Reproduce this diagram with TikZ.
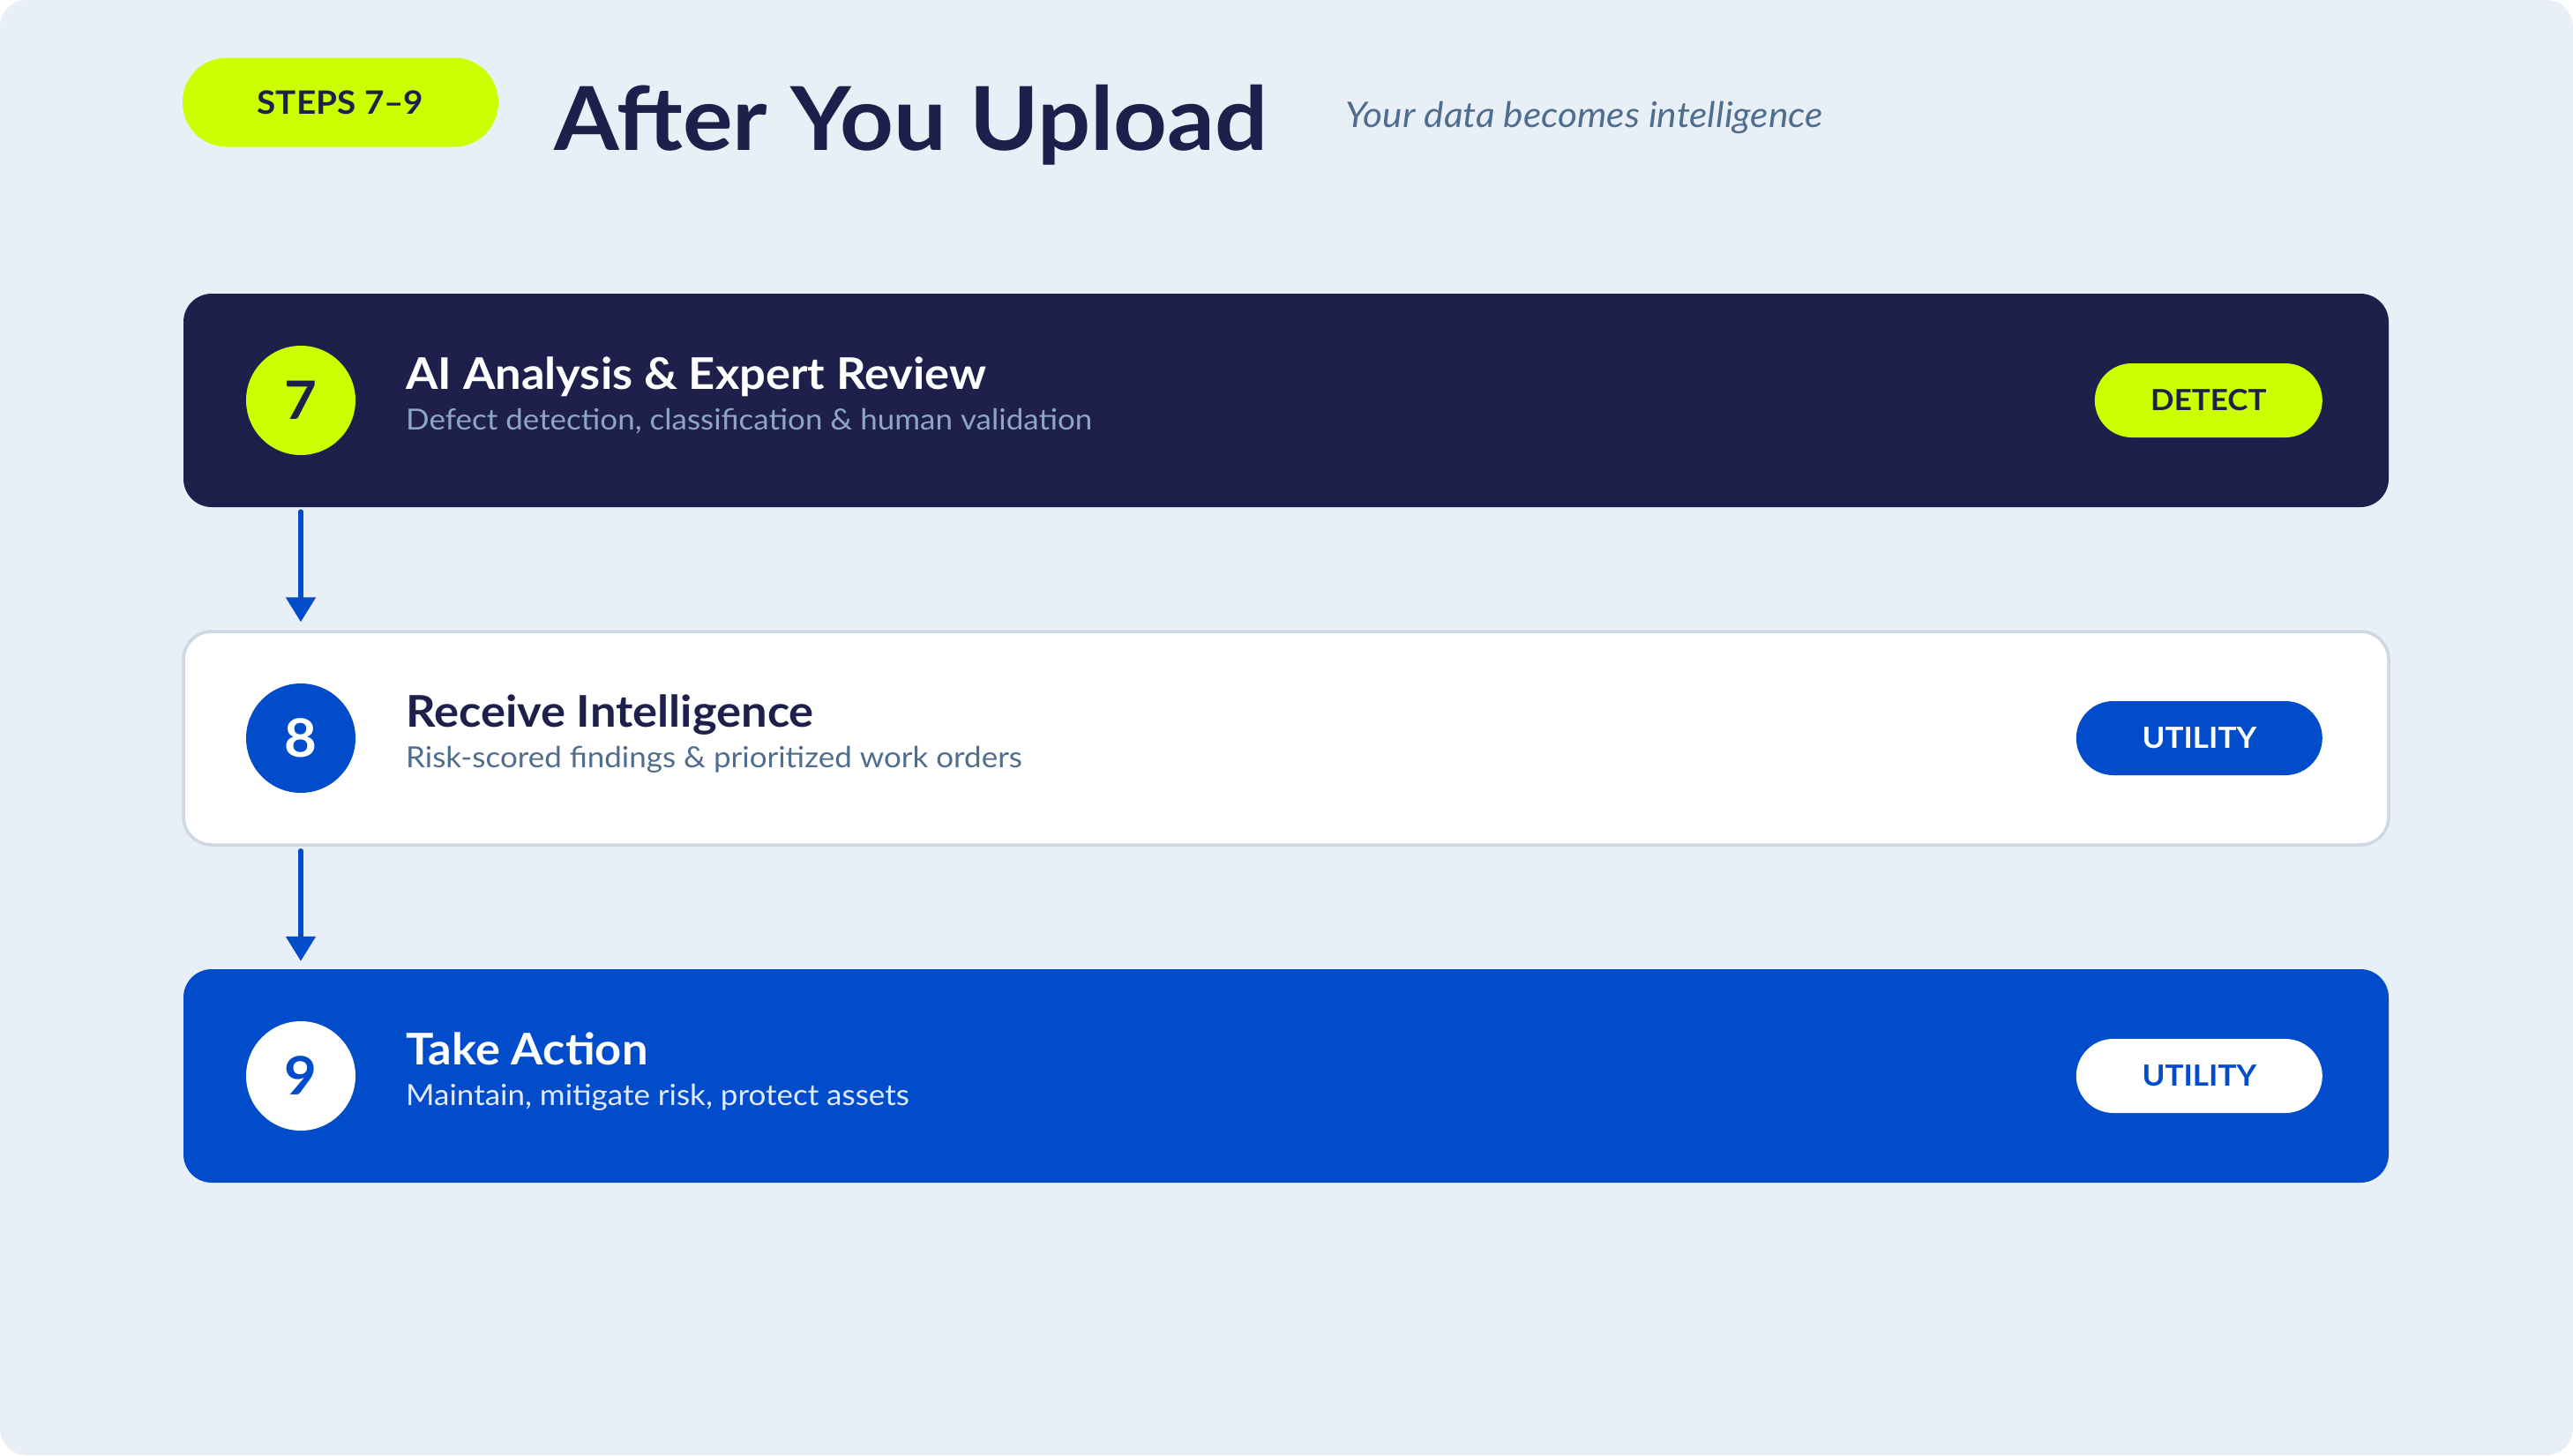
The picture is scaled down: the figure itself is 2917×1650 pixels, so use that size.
\documentclass[tikz,border=0pt]{standalone}
\usepackage{fontspec}
\setmainfont{Lato}[FakeStretch=1.06]
\usetikzlibrary{arrows.meta,positioning}
\definecolor{pagebg}{HTML}{E8EFF7}
\definecolor{navy}{HTML}{1E1F4A}
\definecolor{lime}{HTML}{CCFF00}
\definecolor{royal}{HTML}{004CCB}
\definecolor{slate}{HTML}{4F6D8F}
\definecolor{mist}{HTML}{8CA5C8}
\definecolor{frost}{HTML}{E3EBFF}
\definecolor{edge}{HTML}{CDD8E4}
\newcommand{\fsz}[1]{\fontsize{#1}{#1}\selectfont}
\tikzset{
  card/.style={minimum width=2500pt,minimum height=242pt,rounded corners=32pt,inner sep=0pt},
  badge/.style={circle,minimum size=124pt,inner sep=0pt,font=\fsz{60}\bfseries},
  tag/.style={anchor=east,minimum height=84pt,rounded corners=42pt,inner sep=0pt,font=\fsz{33}\bfseries},
  head/.style={anchor=base west,inner sep=0pt,font=\fsz{49.5}\bfseries},
  sub/.style={anchor=base west,inner sep=0pt,font=\fsz{33}},
  flow/.style={-{Triangle[width=33pt,length=28pt]},line width=5.5pt,royal,line cap=round},
}
\begin{document}
\begin{tikzpicture}[x=1pt,y=-1pt]
\useasboundingbox (0,0) rectangle (2917,1650);
\fill[pagebg,rounded corners=30pt] (0,0) rectangle (2917,1650);
% header
\node[fill=lime,minimum width=358pt,minimum height=101pt,rounded corners=50pt,inner sep=0pt,
  text=navy,font=\fsz{36.5}\bfseries] (stepspill) at (386,116) {STEPS 7–9};
\node[anchor=base west,inner sep=0pt,text=navy,font=\fsz{100}\bfseries] (title) at (628,170) {After You Upload};
\node[anchor=base west,inner sep=0pt,text=slate,font=\fsz{40}\itshape] (tagline) at (1525,144) {Your data becomes intelligence};
% step 7
\node[card,fill=navy] (card7) at (1458,454) {};
\node[badge,fill=lime,text=navy] (badge7) at (341,454) {7};
\node[head,text=white] (head7) at (460,441) {AI Analysis \& Expert Review};
\node[sub,text=mist] (sub7) at (460,487) {Defect detection, classification \& human validation};
\node[tag,fill=lime,text=navy,minimum width=258pt] (tag7) at (2633,454) {DETECT};
% step 8
\node[card,fill=white,draw=edge,line width=3.5pt] (card8) at (1458,837) {};
\node[badge,fill=royal,text=white] (badge8) at (341,837) {8};
\node[head,text=navy] (head8) at (460,824) {Receive Intelligence};
\node[sub,text=slate] (sub8) at (460,870) {Risk-scored findings \& prioritized work orders};
\node[tag,fill=royal,text=white,minimum width=279pt] (tag8) at (2633,837) {UTILITY};
% step 9
\node[card,fill=royal] (card9) at (1458,1220) {};
\node[badge,fill=white,text=royal] (badge9) at (341,1220) {9};
\node[head,text=white] (head9) at (460,1207) {Take Action};
\node[sub,text=frost] (sub9) at (460,1253) {Maintain, mitigate risk, protect assets};
\node[tag,fill=white,text=royal,minimum width=279pt] (tag9) at (2633,1220) {UTILITY};
% arrows
\draw[flow,shorten <=5pt,shorten >=9pt] (badge7 |- card7.south) -- (badge8 |- card8.north);
\draw[flow,shorten <=5pt,shorten >=9pt] (badge8 |- card8.south) -- (badge9 |- card9.north);
\end{tikzpicture}
\end{document}
